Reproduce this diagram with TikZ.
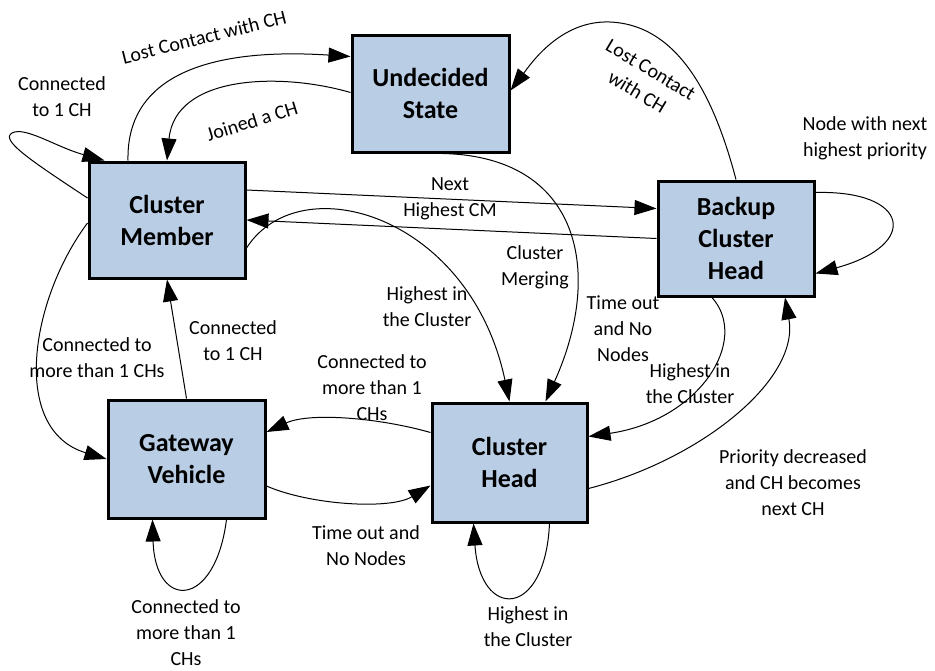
\documentclass[tikz,border=0pt]{standalone}
\usepackage{fontspec}
\setmainfont{Carlito}
\usetikzlibrary{arrows.meta,calc}
\definecolor{boxfill}{HTML}{B9CDE5}
\tikzset{
  state/.style={draw=black, line width=3pt, fill=boxfill, align=center,
    font=\fontsize{26}{32}\selectfont\bfseries, inner sep=0pt},
  lbl/.style={align=center, inner sep=0pt, font=\fontsize{20}{26}\selectfont},
  edge/.style={line width=1pt, -{Triangle[length=22pt,width=15pt]}},
}
\begin{document}
\begin{tikzpicture}[x=1pt,y=-1pt]
\useasboundingbox (0,0) rectangle (935,670);

% states
\node[state, minimum width=157pt, minimum height=117pt] (u)  at (430.5,93.5) {Undecided\\State};
\node[state, minimum width=156pt, minimum height=116pt] (cm) at (167,220)    {Cluster\\Member};
\node[state, minimum width=156pt, minimum height=115pt] (bk) at (736,238.5)  {Backup\\Cluster\\Head};
\node[state, minimum width=157pt, minimum height=118pt] (gv) at (186.5,459)  {Gateway\\Vehicle};
\node[state, minimum width=155pt, minimum height=119pt] (ch) at (509.5,462.5) {Cluster\\Head};

% transitions
\draw[edge] ($(cm.north)+(-39,0)$) .. controls (126,70) and (220,48) .. ($(u.west)+(0,-37)$);
\draw[edge] ($(u.west)+(0,-1)$) .. controls (280,72) and (175,75) .. (cm.north);
\draw[edge] ($(cm.west)+(0,-22)$) .. controls (30,160) and (0,140) .. (12,133)
            .. controls (25,126) and (56,147) .. ($(cm.north west)+(17,0)$);
\draw[edge] ($(cm.east)+(0,-30)$) -- ($(bk.west)+(0,-30)$);
\draw[edge] (bk.west) -- (cm.east);
\draw[edge] ($(cm.east)+(0,28)$) .. controls (300,165) and (470,215) .. (ch.north);
\draw[edge] (u.south) .. controls (580,150) and (605,270) .. ($(ch.north)+(36,0)$);
\draw[edge] ($(bk.south)+(-24,0)$) .. controls (750,340) and (700,420) .. ($(ch.east)+(0,-26)$);
\draw[edge] ($(ch.east)+(0,26)$) .. controls (700,460) and (800,380) .. ($(bk.south)+(49,0)$);
\draw[edge] (bk.north) .. controls (715,100) and (680,25) .. (610,22)
            .. controls (560,20) and (530,65) .. ($(u.east)+(0,-3)$);
\draw[edge] ($(bk.east)+(0,-46)$) .. controls (910,190) and (920,245) .. ($(bk.east)+(0,35)$);
\draw[edge] (gv.north) -- (cm.south);
\draw[edge] ($(cm.west)+(0,3)$) .. controls (30,300) and (10,430) .. (gv.west);
\draw[edge] ($(ch.west)+(0,-30)$) .. controls (380,418) and (310,412) .. ($(gv.east)+(0,-27)$);
\draw[edge] ($(gv.east)+(0,27)$) .. controls (310,505) and (390,510) .. ($(ch.west)+(0,23)$);
\draw[edge] ($(gv.south)+(40,0)$) .. controls (215,610) and (155,610) .. ($(gv.south)+(-34,0)$);
\draw[edge] ($(ch.south)+(40,0)$) .. controls (545,620) and (480,620) .. ($(ch.south)+(-36,0)$);

% transition labels
\node[lbl, rotate=14]  (l1)  at (204,37)  {Lost Contact with CH};
\node[lbl, rotate=17]  (l2)  at (252,121) {Joined a CH};
\node[lbl]             (l3)  at (62,97)   {Connected\\to 1 CH};
\node[lbl]             (l4)  at (450,199) {Next\\Highest CM};
\node[lbl]             (l6)  at (427,307) {Highest in\\the Cluster};
\node[lbl]             (l7)  at (535,267) {Cluster\\Merging};
\node[lbl]             (l7b) at (623,329) {Time out\\and No\\Nodes};
\node[lbl]             (l8)  at (690,384) {Highest in\\the Cluster};
\node[lbl]             (l9)  at (793,483) {Priority decreased\\and CH becomes\\next CH};
\node[lbl, rotate=-31] (l10) at (644,81)  {Lost Contact\\with CH};
\node[lbl]             (l11) at (865,138) {Node with next\\highest priority};
\node[lbl]             (l12) at (233,341) {Connected\\to 1 CH};
\node[lbl]             (l13) at (97,358)  {Connected to\\more than 1 CHs};
\node[lbl]             (l14) at (372,388) {Connected to\\more than 1\\CHs};
\node[lbl]             (l15) at (366,546) {Time out and\\No Nodes};
\node[lbl]             (l16) at (186,633) {Connected to\\more than 1\\CHs};
\node[lbl]             (l17) at (528,627) {Highest in\\the Cluster};
\end{tikzpicture}
\end{document}
